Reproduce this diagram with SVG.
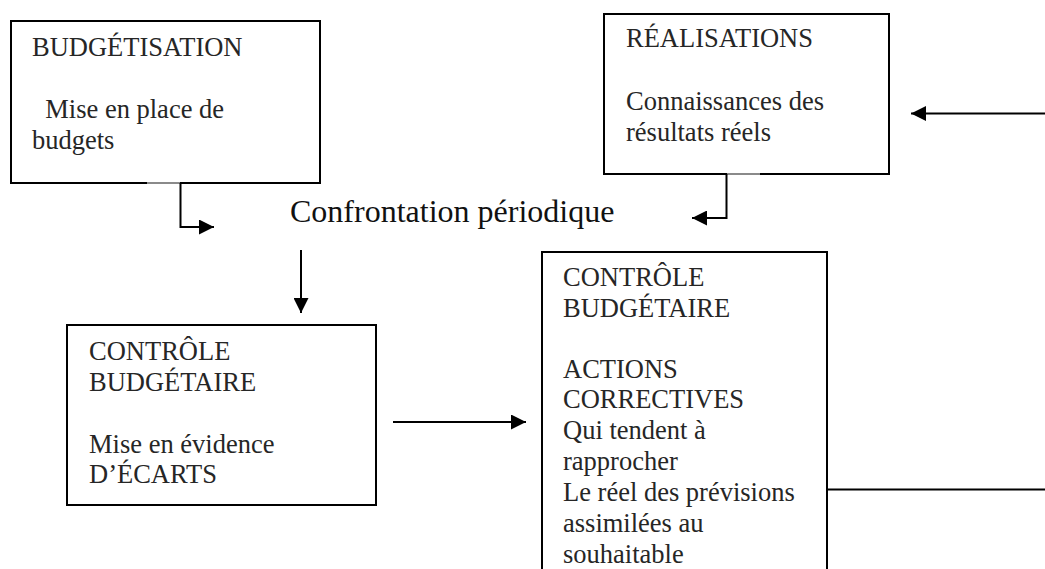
<svg xmlns="http://www.w3.org/2000/svg" width="1045" height="569" viewBox="0 0 1045 569">
<defs>
<style>
.box{fill:#fff;stroke:#000;stroke-width:2}
.t{font-family:"Liberation Serif","Times New Roman",serif;font-size:26.5px;fill:#262626}
.big{font-family:"Liberation Serif","Times New Roman",serif;font-size:32px;fill:#111}
.c{fill:none;stroke:#000;stroke-width:2}
.g{fill:none;stroke:#8a8a8a;stroke-width:2}
</style>
<marker id="ah" viewBox="0 0 15 15" refX="15" refY="7.5" markerWidth="15" markerHeight="15" markerUnits="userSpaceOnUse" orient="auto">
<path d="M0,0 L15,7.5 L0,15 Z" fill="#000"/>
</marker>
</defs>
<rect width="1045" height="569" fill="#fff"/>
<g id="budgetisation">
<rect class="box" x="11" y="21" width="309" height="162"/>
<text class="t" x="32" y="56">BUDGÉTISATION</text>
<text class="t" x="32" y="118" xml:space="preserve">  Mise en place de</text>
<text class="t" x="32" y="149">budgets</text>
</g>
<g id="realisations">
<rect class="box" x="604" y="14" width="285" height="160"/>
<text class="t" x="626" y="47">RÉALISATIONS</text>
<text class="t" x="626" y="110">Connaissances des</text>
<text class="t" x="626" y="141">résultats réels</text>
</g>
<g id="confrontation">
<text class="big" x="290" y="222">Confrontation périodique</text>
</g>
<g id="controle-ecarts">
<rect class="box" x="67" y="325" width="309" height="180"/>
<text class="t" x="89" y="360">CONTRÔLE</text>
<text class="t" x="89" y="391">BUDGÉTAIRE</text>
<text class="t" x="89" y="453">Mise en évidence</text>
<text class="t" x="89" y="483">D’ÉCARTS</text>
</g>
<g id="controle-actions">
<rect class="box" x="542" y="252" width="285" height="340"/>
<text class="t" x="563" y="286">CONTRÔLE</text>
<text class="t" x="563" y="317">BUDGÉTAIRE</text>
<text class="t" x="563" y="378">ACTIONS</text>
<text class="t" x="563" y="408">CORRECTIVES</text>
<text class="t" x="563" y="439">Qui tendent à</text>
<text class="t" x="563" y="470">rapprocher</text>
<text class="t" x="563" y="501">Le réel des prévisions</text>
<text class="t" x="563" y="532">assimilées au</text>
<text class="t" x="563" y="563">souhaitable</text>
</g>
<g id="connectors">
<line class="g" x1="147" y1="183" x2="180" y2="183"/>
<path class="c" d="M180.5,183 V227 H214" marker-end="url(#ah)"/>
<line class="g" x1="727" y1="174" x2="760" y2="174"/>
<path class="c" d="M726.5,174 V218 H692" marker-end="url(#ah)"/>
<path class="c" d="M1045,113.5 H911" marker-end="url(#ah)"/>
<path class="c" d="M301,250 V313" marker-end="url(#ah)"/>
<path class="c" d="M393,422 H526" marker-end="url(#ah)"/>
<path class="c" d="M827,489.5 H1045"/>
</g>
</svg>
